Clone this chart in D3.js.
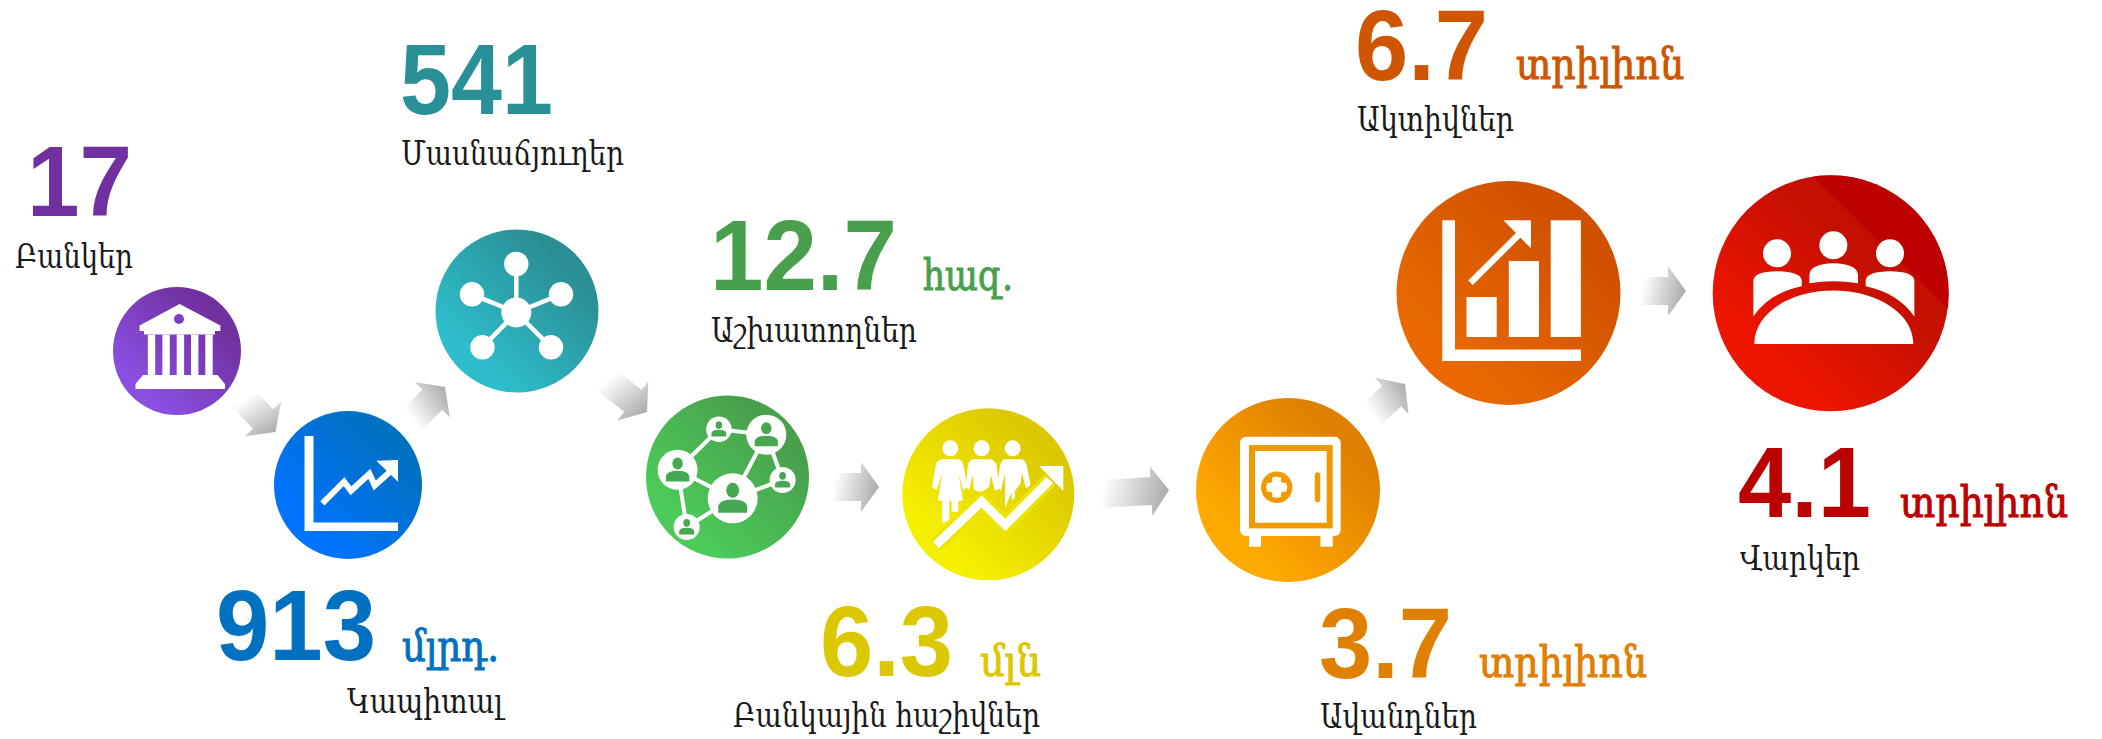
<!DOCTYPE html>
<html>
<head>
<meta charset="utf-8">
<script src="https://cdn.jsdelivr.net/npm/d3@7"></script>
<style>
  body { margin: 0; background: #fff; }
  svg { display: block; }
</style>
</head>
<body>
<div id="my_dataviz"></div>
<script>
// the figures, in the order of the chain
var values = [17, 913, 541, 12.7, 6.3, 3.7, 6.7, 4.1]
var units = ["", "մլրդ.", "", "հազ.", "մլն", "տրիլիոն", "տրիլիոն", "տրիլիոն"]
var labels = ["Բանկեր", "Կապիտալ", "Մասնաճյուղեր", "Աշխատողներ", "Բանկային հաշիվներ", "Ավանդներ", "Ակտիվներ", "Վարկեր"]
var icons = ["bank", "capital", "branch", "people", "accounts", "safe", "assets", "loans"]

// colours
var textColor = ["#7030a0", "#0070c0", "#2a9097", "#48a04c", "#dcc800", "#e08000", "#d05500", "#bb0000"]
var lightColor = ["#8a4fe0", "#0073ff", "#2ebdcc", "#4ccb5a", "#f5f000", "#ffaa00", "#e96900", "#ee1500"]
var darkColor = ["#7030a0", "#0070c0", "#2a8f94", "#48a04c", "#dcc800", "#e08000", "#d05000", "#c41000"]
var darkStop = [85, 85, 85, 85, 85, 85, 85, 68]

// layout in pixels
var circleX = [177, 348, 517, 727.5, 988.3, 1288, 1508.5, 1830.7]
var circleY = [351, 485, 311, 477, 494.3, 490, 293, 293.3]
var circleR = [64, 74, 81.5, 81.5, 86, 92, 112, 118]
var valueX = [27, 216, 400, 710, 820, 1319, 1355, 1738]
var valueY = [216, 660, 114, 290, 676, 678, 80, 517]
var valueW = [105, 160, 153, 187, 133, 133, 133, 133]
var unitX = [0, 402, 0, 923, 980, 1479, 1516, 1900]
var unitY = [0, 661, 0, 290, 676, 677, 79, 517]
var unitW = [0, 97, 0, 90, 61, 168, 168, 168]
var labelX = [15, 347, 401, 711, 733, 1320, 1357, 1740]
var labelY = [268, 713, 165, 342, 727, 728, 131, 570]
var labelW = [118, 156, 223, 206, 307, 157, 157, 120]
var arrowTail = [[242, 397], [410, 422], [604, 378], [830, 487], [1097, 494], [1370, 416], [1638, 291]]
var arrowTip = [[275.5, 432], [445, 387], [647, 412], [879, 487], [1169, 490], [1405, 384], [1686, 291]]

var width = 2102, height = 739

var svg = d3.select("#my_dataviz")
  .append("svg")
    .attr("width", width)
    .attr("height", height)

var defs = svg.append("defs")

// gradients, bright at the lower left and dark at the upper right
values.forEach(function(v, i) {
  var g = defs.append("linearGradient")
      .attr("id", "disc" + i)
      .attr("x1", 0.1).attr("y1", 0.9).attr("x2", 0.9).attr("y2", 0.1)
  g.append("stop").attr("offset", "15%").attr("stop-color", lightColor[i])
  g.append("stop").attr("offset", darkStop[i] + "%").attr("stop-color", darkColor[i])
})

var fade = defs.append("linearGradient")
    .attr("id", "arrowFade")
    .attr("x1", 0).attr("y1", 0.4).attr("x2", 1).attr("y2", 0.6)
fade.append("stop").attr("offset", "8%").attr("stop-color", "#fff")
fade.append("stop").attr("offset", "100%").attr("stop-color", "#a9a9a9")

// Add the grey arrows between the discs
svg.append("g")
  .selectAll("path")
  .data(arrowTail)
  .enter()
  .append("path")
    .attr("fill", "url(#arrowFade)")
    .attr("transform", function(d, i) {
      var a = Math.atan2(arrowTip[i][1] - d[1], arrowTip[i][0] - d[0]) * 180 / Math.PI
      return "translate(" + d[0] + "," + d[1] + ") rotate(" + a + ")"
    })
    .attr("d", function(d, i) {
      var len = Math.hypot(arrowTip[i][0] - d[0], arrowTip[i][1] - d[1])
      var p = d3.path()
      p.moveTo(0, -14)
      p.lineTo(len - 18, -14)
      p.lineTo(len - 18, -25)
      p.lineTo(len, 0)
      p.lineTo(len - 18, 25)
      p.lineTo(len - 18, 14)
      p.lineTo(0, 14)
      p.closePath()
      return p.toString()
    })

// Add the discs
var discs = svg.append("g")
  .selectAll("g")
  .data(values)
  .enter()
  .append("g")
    .attr("transform", function(d, i) { return "translate(" + circleX[i] + "," + circleY[i] + ")" })

discs.append("circle")
    .attr("r", function(d, i) { return circleR[i] })
    .attr("fill", function(d, i) { return "url(#disc" + i + ")" })

// the icons are drawn in pixels around the centre of their disc
var iconDraw = {
  bank: function(g) {
    g.append("path").attr("fill", "#fff")
      .attr("d", "M2.6,-47 L43.4,-25.5 V-20 H38 V-16.4 H-33 V-20 H-37.4 V-25.5 Z M-34,24 H40.5 L48,33 V38 H-41.5 V33 Z")
    g.append("circle").attr("cx", 2).attr("cy", -32).attr("r", 5).attr("fill", "#7c3fc0")
    ;[-29.2, -14.6, -0.3, 14, 28.3].forEach(function(x) {
      g.append("rect").attr("x", x).attr("y", -16.4).attr("width", 7.4).attr("height", 41).attr("fill", "#fff")
    })
  },
  capital: function(g) {
    g.append("path").attr("fill", "#fff")
      .attr("d", "M-43.5,-49 H-34.5 V37.4 H50 V46 H-43.5 Z M50,-25 L28.3,-24.3 L50,-3.3 Z")
    g.append("polyline").attr("fill", "none").attr("stroke", "#fff").attr("stroke-width", 6)
      .attr("points", "-25.6,18.4 -4,-3.3 3,5.8 21.4,-11.2 26.7,0.6 44,-15")
  },
  branch: function(g) {
    var nodes = [[-0.7, -47], [-45, -16.7], [44, -16.7], [-34.6, 36.3], [34, 36.3]]
    nodes.forEach(function(n) {
      g.append("line").attr("x1", -0.7).attr("y1", 1.5).attr("x2", n[0]).attr("y2", n[1])
        .attr("stroke", "#fff").attr("stroke-width", 4.5)
      g.append("circle").attr("cx", n[0]).attr("cy", n[1]).attr("r", 12.2).attr("fill", "#fff")
    })
    g.append("circle").attr("cx", -0.7).attr("cy", 1.5).attr("r", 15).attr("fill", "#fff")
  },
  people: function(g) {
    var nodes = [[-8.6, -47.8, 12.8], [38.8, -42.3, 20], [-49.9, -7.2, 20], [55.1, 3, 13], [5.2, 21.3, 25], [-40.8, 50, 13]]
    var links = [[0, 1], [0, 2], [1, 4], [1, 3], [3, 4], [2, 4], [2, 5], [5, 4]]
    links.forEach(function(l) {
      g.append("line")
        .attr("x1", nodes[l[0]][0]).attr("y1", nodes[l[0]][1])
        .attr("x2", nodes[l[1]][0]).attr("y2", nodes[l[1]][1])
        .attr("stroke", "#fff").attr("stroke-width", 4)
    })
    nodes.forEach(function(n) {
      var r = n[2]
      var c = g.append("g").attr("transform", "translate(" + n[0] + "," + n[1] + ")")
      c.append("circle").attr("r", r).attr("fill", "#fff")
      c.append("ellipse").attr("cy", -r * 0.32).attr("rx", r * 0.26).attr("ry", r * 0.3).attr("fill", "#47a852")
      c.append("path").attr("fill", "#47a852")
        .attr("d", "M" + (-r * 0.58) + "," + (r * 0.58) + " V" + (r * 0.3) + " Q" + (-r * 0.5) + "," + (r * 0.05)
          + " 0," + (r * 0.05) + " Q" + (r * 0.5) + "," + (r * 0.05) + " " + (r * 0.58) + "," + (r * 0.3)
          + " V" + (r * 0.58) + " Z")
    })
  },
  accounts: function(g) {
    // traced on a 3x crop, so it is scaled back down here
    var t = g.append("g").attr("transform", "translate(-88.33,-89.33) scale(0.3333)")
    ;[151, 245, 338].forEach(function(x) {
      t.append("circle").attr("cx", x).attr("cy", 130).attr("r", 24).attr("fill", "#fff")
    })
    t.append("path").attr("fill", "#fff")
      .attr("d", "M128,163 H174 Q186,165 190,178 L202,243 L190,258 L176,205 L189,287 H175 V320 H155 V287 H148 V345 L127,355 V287 H114 L126,205 L110,256 L96,245 L108,178 Q112,165 128,163 Z"
        + " M218,163 H272 Q284,167 290,180 L298,250 L285,258 L273,210 L268,245 L245,262 L222,255 L218,210 L208,255 L197,245 L204,180 Q208,167 218,163 Z"
        + " M312,163 H364 Q376,167 380,180 L392,240 L378,250 L366,205 L362,235 L345,258 V278 L335,285 V262 L315,310 V240 L315,205 L303,255 L292,250 L300,180 Q304,167 312,163 Z")
    var zig = "108,420 245,290 316,360 450,225"
    t.append("polyline").attr("fill", "none").attr("stroke", "#eee400").attr("stroke-width", 46).attr("points", zig)
    t.append("polyline").attr("fill", "none").attr("stroke", "#fff").attr("stroke-width", 26).attr("points", zig)
    t.append("path").attr("fill", "#fff").attr("d", "M490,183 H417 L490,258 Z")
  },
  safe: function(g) {
    g.append("rect").attr("x", -48).attr("y", -53.3).attr("width", 100.7).attr("height", 99.3).attr("rx", 6).attr("fill", "#fff")
    g.append("rect").attr("x", -39).attr("y", -45).attr("width", 83.7).attr("height", 83.4).attr("fill", "#f09a00")
    g.append("rect").attr("x", -33).attr("y", -39).attr("width", 71.7).attr("height", 71.7).attr("fill", "#fff")
    // the dial with its four notches
    var dial = g.append("g").attr("transform", "translate(-11.3,-2.7)")
    dial.append("circle").attr("r", 15.7).attr("fill", "#f09a00")
    dial.append("circle").attr("r", 10.5).attr("fill", "#fff")
    ;[[-7.5, -7.5], [7.5, -7.5], [-7.5, 7.5], [7.5, 7.5]].forEach(function(n) {
      dial.append("circle").attr("cx", n[0]).attr("cy", n[1]).attr("r", 3.2).attr("fill", "#f09a00")
    })
    g.append("rect").attr("x", 26.8).attr("y", -17.7).attr("width", 5.4).attr("height", 30).attr("rx", 2.7).attr("fill", "#f09a00")
    g.append("rect").attr("x", -39).attr("y", 45).attr("width", 12).attr("height", 11.7).attr("fill", "#fff")
    g.append("rect").attr("x", 32.4).attr("y", 45).attr("width", 12.3).attr("height", 11.7).attr("fill", "#fff")
  },
  assets: function(g) {
    g.append("path").attr("fill", "#fff")
      .attr("d", "M-66.2,-72.7 H-53.5 V56.4 H72.5 V68 H-66.2 Z M22.5,-72.7 H-5.1 L22.5,-44.7 Z")
    ;[[-42, 4], [0.3, -32], [42.2, -72.7]].forEach(function(b) {
      g.append("rect").attr("x", b[0]).attr("y", b[1]).attr("width", 30.2).attr("height", 44 - b[1]).attr("fill", "#fff")
    })
    g.append("line").attr("x1", -38).attr("y1", -10.2).attr("x2", 11.2).attr("y2", -59.3)
      .attr("stroke", "#fff").attr("stroke-width", 6.5)
  },
  loans: function(g) {
    // the darker facet at the upper right, clipped to the disc
    defs.append("clipPath").attr("id", "redClip").append("circle").attr("r", 118)
    g.append("path").attr("clip-path", "url(#redClip)").attr("fill", "#bd0000")
      .attr("d", "M-19,-118 L118,16 V-118 Z")
    // traced on a 3x crop as well
    var t = g.append("g").attr("transform", "translate(-120.67,-123.33) scale(0.3333)")
    ;[[201, 250], [370, 226], [540, 250]].forEach(function(h) {
      t.append("circle").attr("cx", h[0]).attr("cy", h[1]).attr("r", 42).attr("fill", "#fff")
    })
    t.append("path").attr("fill", "#fff")
      .attr("d", "M133,522 C133,430 240,362 370,362 C500,362 610,430 610,522 Z"
        + " M298,340 V315 Q300,282 370,280 Q442,282 444,315 V340 Q370,328 298,340 Z"
        + " M130,440 V330 Q135,305 200,304 Q270,305 275,330 V349 Q175,370 130,440 Z"
        + " M613,440 V330 Q608,305 540,304 Q472,305 467,330 V349 Q565,370 613,440 Z")
  }
}

discs.each(function(d, i) {
  iconDraw[icons[i]](d3.select(this))
})

// big numbers
svg.append("g")
  .selectAll("text")
  .data(values)
  .enter()
  .append("text")
    .attr("x", function(d, i) { return valueX[i] })
    .attr("y", function(d, i) { return valueY[i] })
    .attr("fill", function(d, i) { return textColor[i] })
    .attr("textLength", function(d, i) { return valueW[i] })
    .attr("lengthAdjust", "spacingAndGlyphs")
    .style("font-family", "'Liberation Sans', Arial, sans-serif")
    .style("font-weight", "bold")
    .style("font-size", "100px")
    .text(function(d) { return String(d) })

// units next to the numbers, only where there is one
var unitIndex = d3.range(units.length).filter(function(i) { return units[i] != "" })
svg.append("g")
  .selectAll("text")
  .data(unitIndex)
  .enter()
  .append("text")
    .attr("x", function(i) { return unitX[i] })
    .attr("y", function(i) { return unitY[i] })
    .attr("fill", function(i) { return textColor[i] })
    .attr("stroke", function(i) { return textColor[i] })
    .attr("stroke-width", 0.9)
    .attr("textLength", function(i) { return unitW[i] })
    .attr("lengthAdjust", "spacingAndGlyphs")
    .style("font-family", "'DejaVu Serif Condensed', 'DejaVu Serif', serif")
    .style("font-size", "42px")
    .text(function(i) { return units[i] })

// black captions
svg.append("g")
  .selectAll("text")
  .data(labels)
  .enter()
  .append("text")
    .attr("x", function(d, i) { return labelX[i] })
    .attr("y", function(d, i) { return labelY[i] })
    .attr("fill", "#1a1a1a")
    .attr("textLength", function(d, i) { return labelW[i] })
    .attr("lengthAdjust", "spacingAndGlyphs")
    .style("font-family", "'DejaVu Serif Condensed', 'DejaVu Serif', serif")
    .style("font-size", "33px")
    .text(function(d) { return d })
</script>
</body>
</html>
